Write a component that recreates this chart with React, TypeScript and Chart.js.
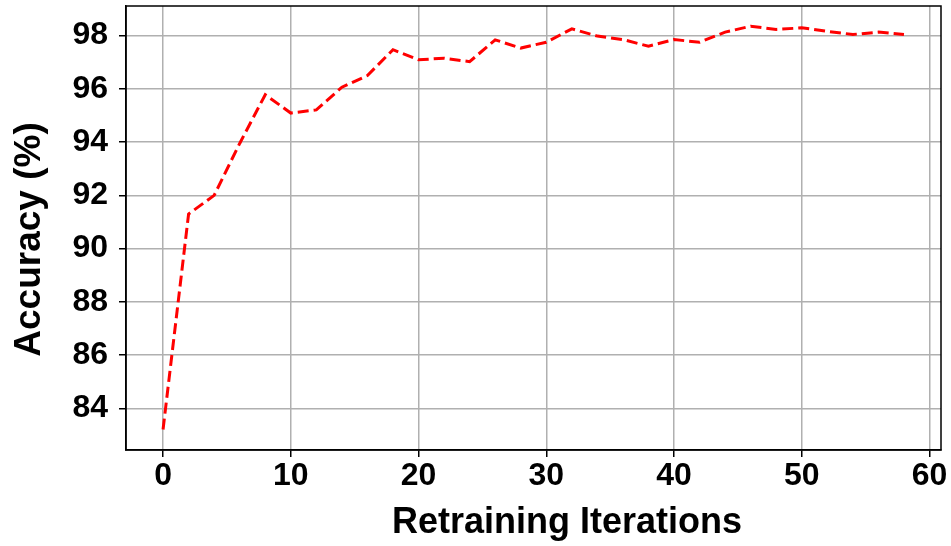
import React, { useEffect, useRef } from "react";
import { Chart, registerables } from "chart.js";

Chart.register(...registerables);

const iterations = [0, 2, 4, 6, 8, 10, 12, 14, 16, 18, 20, 22, 24, 26, 28, 30, 32, 34, 36, 38, 40, 42, 44, 46, 48, 50, 52, 54, 56, 58];
const accuracy = [83.21, 91.3, 92.0, 93.95, 95.78, 95.09, 95.21, 96.06, 96.5, 97.47, 97.09, 97.15, 97.02, 97.84, 97.53, 97.75, 98.25, 97.98, 97.85, 97.6, 97.85, 97.75, 98.13, 98.35, 98.23, 98.29, 98.16, 98.04, 98.13, 98.04];

const xTitle = "Retraining Iterations";
const yTitle = "Accuracy (%)";
const FONT = "'Liberation Sans', Arial, sans-serif";

const framePlugin = {
  id: "frame",
  afterDraw(chart: any) {
    const { ctx, chartArea } = chart;
    ctx.save();
    ctx.strokeStyle = "#000";
    ctx.lineWidth = 1.5;
    ctx.strokeRect(chartArea.left, chartArea.top, chartArea.right - chartArea.left, chartArea.bottom - chartArea.top);
    // axis titles
    ctx.fillStyle = "#000";
    ctx.textAlign = "center";
    ctx.textBaseline = "alphabetic";
    ctx.font = `bold 36px ${FONT}`;
    ctx.fillText(xTitle, 567, 533);
    ctx.translate(39.5, 239.5);
    ctx.rotate(-Math.PI / 2);
    ctx.font = `bold 37px ${FONT}`;
    ctx.fillText(yTitle, 0, 0);
    ctx.restore();
  },
};

export default function App() {
  const ref = useRef<HTMLCanvasElement>(null);
  useEffect(() => {
    if (!ref.current) return;
    const chart = new Chart(ref.current, {
      type: "line",
      data: {
        datasets: [
          {
            data: iterations.map((x, i) => ({ x, y: accuracy[i] })),
            borderColor: "#ff0000",
            borderWidth: 3,
            borderDash: [11, 5],
            pointRadius: 0,
            fill: false,
            tension: 0,
          },
        ],
      },
      options: {
        animation: false,
        responsive: false,
        maintainAspectRatio: false,
        layout: { padding: { top: 6, right: 10, left: 0, bottom: 0 } },
        plugins: { legend: { display: false }, tooltip: { enabled: false } },
        scales: {
          x: {
            type: "linear",
            min: -2.9,
            max: 60.9,
            afterFit: (s: any) => {
              s.height = 96;
              s.paddingLeft = 0;
              s.paddingRight = 0;
              s.paddingTop = 0;
              s.paddingBottom = 0;
            },
            ticks: {
              stepSize: 10,
              includeBounds: false,
              color: "#000",
              font: { family: FONT, size: 32, weight: "bold" },
              padding: 0,
              maxRotation: 0,
              autoSkip: false,
            },
            grid: { color: "#b0b0b0", lineWidth: 1.5, tickColor: "#000", tickLength: 7, tickWidth: 1.5 },
            border: { display: true, color: "#000", width: 1.5 },
          },
          y: {
            type: "linear",
            min: 82.44,
            max: 99.11,
            afterFit: (s: any) => {
              s.width = 126;
              s.paddingLeft = 0;
              s.paddingRight = 0;
              s.paddingTop = 0;
              s.paddingBottom = 0;
            },
            ticks: {
              stepSize: 2,
              includeBounds: false,
              color: "#000",
              font: { family: FONT, size: 32, weight: "bold" },
              padding: 11,
            },
            grid: { color: "#b0b0b0", lineWidth: 1.5, tickColor: "#000", tickLength: 7, tickWidth: 1.5 },
            border: { display: true, color: "#000", width: 1.5 },
          },
        },
      },
      plugins: [framePlugin],
    });
    return () => chart.destroy();
  }, []);
  return (
    <div style={{ position: "fixed", left: 0, top: 0, width: 951, height: 546, background: "#fff" }}>
      <canvas ref={ref} width={951} height={546} style={{ display: "block" }} />
    </div>
  );
}
